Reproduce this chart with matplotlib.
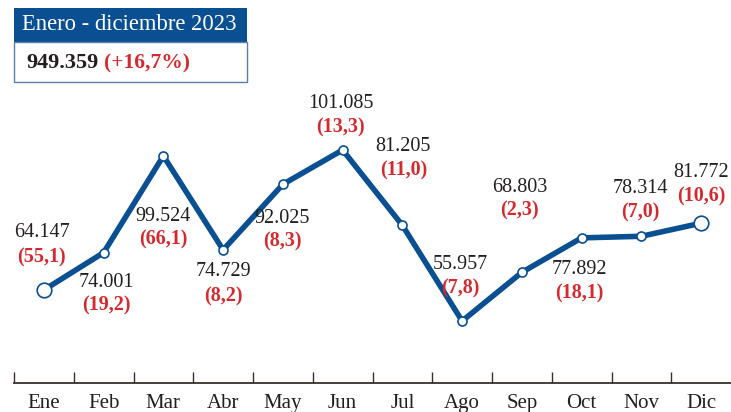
import numpy as np
import matplotlib.pyplot as plt
from matplotlib.patches import Rectangle

# --- Data ---
months = ["Ene", "Feb", "Mar", "Abr", "May", "Jun",
          "Jul", "Ago", "Sep", "Oct", "Nov", "Dic"]
values = [64147, 74001, 99524, 74729, 92025, 101085,
          81205, 55957, 68803, 77892, 78314, 81772]
labels = ["64.147", "74.001", "99.524", "74.729", "92.025", "101.085",
          "81.205", "55.957", "68.803", "77.892", "78.314", "81.772"]
changes = ["(55,1)", "(19,2)", "(66,1)", "(8,2)", "(8,3)", "(13,3)",
           "(11,0)", "(7,8)", "(2,3)", "(18,1)", "(7,0)", "(10,6)"]
total_label = "949.359"
total_change = "(+16,7%)"
title = "Enero - diciembre 2023"

# label offsets in pixels (black number, red change)
offs = [(57, 32), (-30, -53), (-61, -84), (-22, -47), (-34, -57), (46, 22),
        (79, 55), (57, 33), (85, 62), (-32, -56), (48, 24), (51, 27)]
dx = [-2, 3, 0, 0, -1, -2, 1, -2, -2, -2, -1, 0]

BLUE = "#0b4f93"
RED = "#d42a2f"
INK = "#231f20"
plt.rcParams["font.family"] = ["Liberation Serif", "DejaVu Serif"]

W, H = 731, 412
fig = plt.figure(figsize=(W / 100, H / 100), dpi=100)
ax = fig.add_axes([14 / W, (H - 383) / H, (W - 14) / W, 383 / H])

x = np.arange(len(months))
ax.plot(x, values, color=BLUE, lw=4, zorder=2, solid_capstyle="round")
sizes = [10.5 if i in (0, len(x) - 1) else 6.5 for i in x]
for xi, v, s in zip(x, values, sizes):
    ax.plot(xi, v, "o", ms=s, mfc="white", mec=BLUE, mew=1.2, zorder=3)

for xi, v, lab, ch, (o1, o2), d in zip(x, values, labels, changes, offs, dx):
    ax.annotate(lab, (xi, v), xytext=(d, o1), textcoords="offset pixels",
                ha="center", va="center", fontsize=14.5, color=INK)
    ax.annotate(ch, (xi, v), xytext=(d, o2), textcoords="offset pixels",
                ha="center", va="center", fontsize=14.5, color=RED,
                fontweight="bold")

ax.set_xlim(-0.5, 11.5)
ax.set_ylim(39600, 140660)
for s in ["top", "right", "left"]:
    ax.spines[s].set_visible(False)
ax.spines["bottom"].set_color("#3a302b")
ax.spines["bottom"].set_linewidth(1.3)
ax.set_yticks([])
ax.set_xticks(x)
ax.set_xticklabels(months, fontsize=15, color=INK)
ax.tick_params(axis="x", which="major", length=0, pad=8)
ax.set_xticks(np.arange(-0.5, 11.5, 1), minor=True)
ax.tick_params(axis="x", which="minor", length=8, direction="in",
               color="#3a302b", width=1)

# --- header box ---
def px(x0, y0, w, h):
    return (x0 / W, 1 - (y0 + h) / H, w / W, h / H)

b = px(14, 8, 233, 34)
fig.patches.append(Rectangle(b[:2], b[2], b[3], transform=fig.transFigure,
                             facecolor=BLUE, edgecolor="none"))
b = px(14, 42, 233, 40)
fig.patches.append(Rectangle(b[:2], b[2], b[3], transform=fig.transFigure,
                             facecolor="white", edgecolor="#5b7fa6", lw=1))
fig.text(22 / W, 1 - 25 / H, title, color="white", fontsize=16.3,
         va="center", ha="left")
fig.text(26 / W, 1 - 63 / H, total_label, color=INK, fontsize=16,
         fontweight="bold", va="center", ha="left")
fig.text(104 / W, 1 - 63 / H, total_change, color=RED, fontsize=15.5,
         fontweight="bold", va="center", ha="left")

fig.savefig("out.png", dpi=100)
